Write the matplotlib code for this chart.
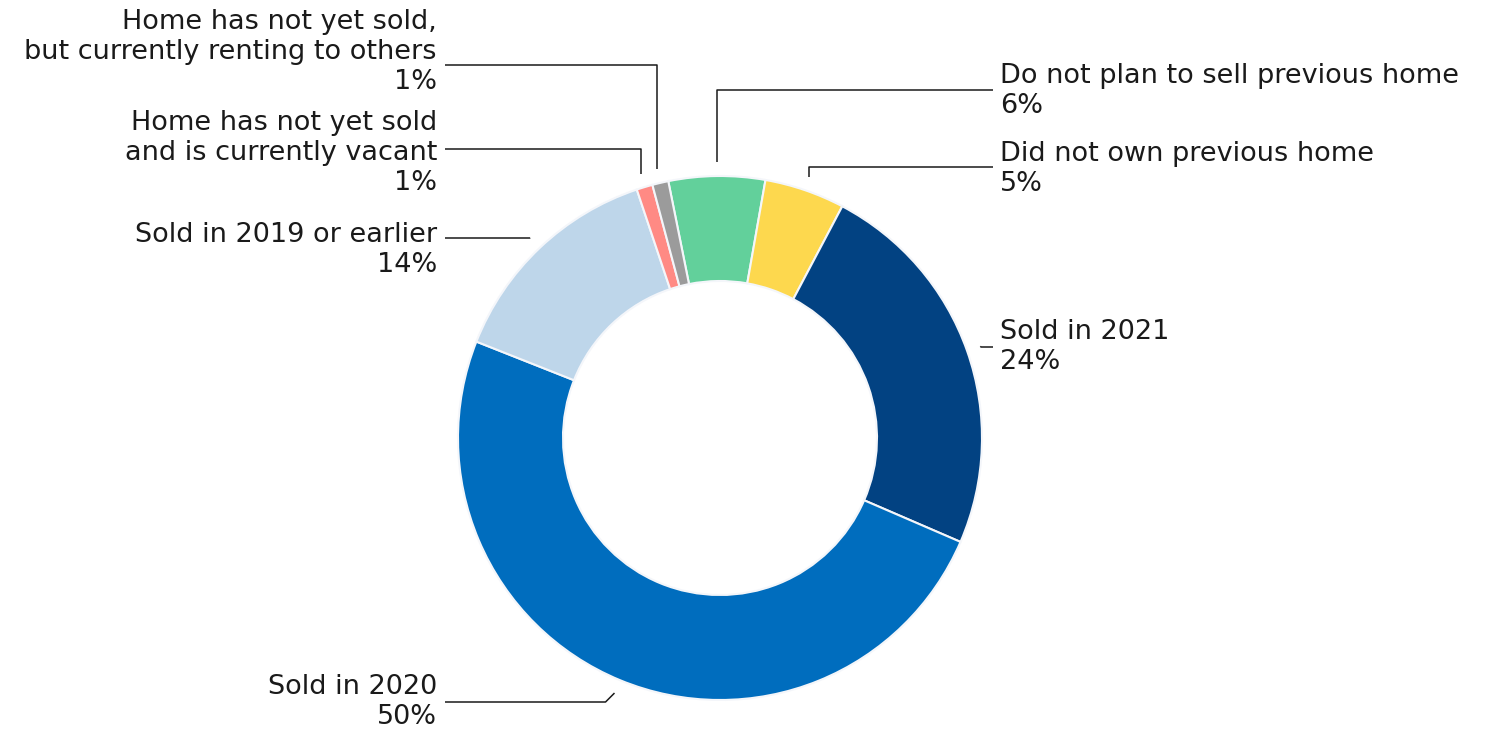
import numpy as np
import matplotlib
matplotlib.use("Agg")
import matplotlib.pyplot as plt

plt.rcParams['font.family'] = ['DejaVu Sans']

# slices, clockwise starting with "Do not plan..."
labels = [
    "Do not plan to sell previous home",
    "Did not own previous home",
    "Sold in 2021",
    "Sold in 2020",
    "Sold in 2019 or earlier",
    "Home has not yet sold\nand is currently vacant",
    "Home has not yet sold,\nbut currently renting to others",
]
values = [6, 5, 24, 50, 14, 1, 1]
colors = ["#62D09B", "#FDD84E", "#024282", "#006DBE", "#BED6EA", "#FF8A84", "#9B9B9B"]

W, H = 1494, 733
cx, cy = 720, H - 438
R, R_in = 262, 157

# label block centre (x, y from top), connector y (from top), side, connector kind
label_pos = [
    (1000, 91, 90, "right", "v"),
    (1000, 169, 167, "right", "v"),
    (1000, 347, 347, "right", "d"),
    (437, 702, 702, "left", "d"),
    (437, 250, 238, "left", "d"),
    (437, 153, 149, "left", "v"),
    (437, 52, 65, "left", "v"),
]

fig = plt.figure(figsize=(W / 100, H / 100), dpi=100)
ax = fig.add_axes([0, 0, 1, 1])

total = sum(values)
start = 90 + 360 * (values[0] / total) - 10  # first boundary sits just left of top
wedges, _ = ax.pie(values, colors=colors, startangle=start, counterclock=False,
                   center=(cx, cy), radius=R,
                   wedgeprops=dict(width=R - R_in, edgecolor="#f4f6fa", linewidth=1.5))

ax.set_xlim(0, W)
ax.set_ylim(0, H)
ax.set_aspect("equal")
ax.axis("off")

for w, lab, val, (lx, ly, line_y, side, kind) in zip(wedges, labels, values, label_pos):
    mid = np.deg2rad((w.theta1 + w.theta2) / 2)
    tx = cx + (R + 14) * np.cos(mid)
    ty = cy + (R + 14) * np.sin(mid)
    ly_d = H - ly
    line_yd = H - line_y
    end_x = lx - 7 if side == "right" else lx + 8
    dy = abs(line_yd - ty)
    if kind == "v":
        xs = [tx, tx, end_x]
    else:
        xs = [tx, tx - dy if side == "left" else tx + dy, end_x]
    ys = [ty, line_yd, line_yd]
    ax.plot(xs, ys, color="#1a1a1a", lw=1.1, solid_capstyle="butt")

    txt = f"{lab}\n{val}%"
    ha = "left" if side == "right" else "right"
    ax.text(lx, ly_d, txt, ha=ha, va="center", multialignment=ha,
            fontsize=19.5, color="#1a1a1a", linespacing=1.2)

fig.savefig("out.png", dpi=100)
